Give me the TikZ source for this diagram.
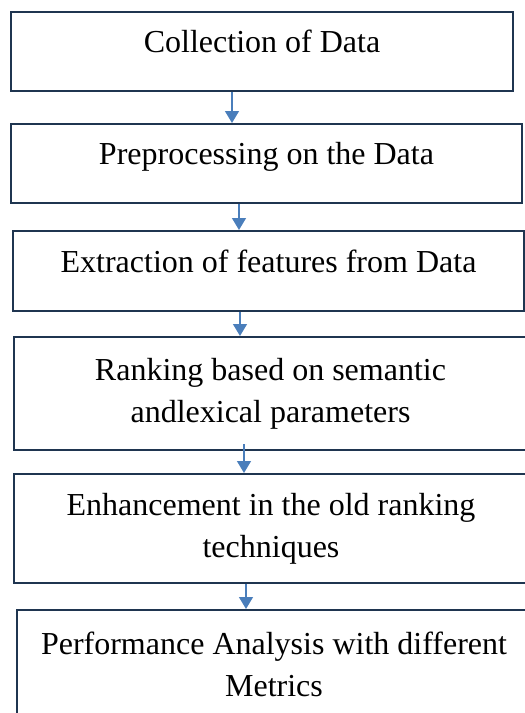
\documentclass[tikz,border=0pt]{standalone}
\usepackage{fontspec}
\setmainfont{Liberation Serif}
\usetikzlibrary{arrows.meta,positioning,calc}
\definecolor{boxline}{HTML}{1F3550}
\definecolor{arrowblue}{HTML}{4A7EBB}

\begin{document}
\begin{tikzpicture}[x=0.5pt, y=-0.5pt,
    stepbox/.style={draw=boxline, line width=1pt, anchor=north west, align=center,
        font=\fontsize{16}{20.8}\selectfont},
    oneline/.style={text depth=10pt},
    flow/.style={draw=arrowblue, line width=0.75pt, -{Triangle[width=7pt,length=6pt]}}]
    \useasboundingbox (0,0) rectangle (525,713);

    % Define steps
    \node[stepbox, oneline, minimum width=251pt, minimum height=39.5pt] (s1) at (10,11) {Collection of Data};
    \node[stepbox, oneline, minimum width=255.5pt, minimum height=39.5pt] (s2) at (10,123) {Preprocessing on the Data};
    \node[stepbox, oneline, minimum width=255.5pt, minimum height=40pt] (s3) at (12,230) {Extraction of features from Data};
    \node[stepbox, minimum width=256.5pt, minimum height=56.5pt] (s4) at (13,336) {Ranking based on semantic\\andlexical parameters};
    \node[stepbox, minimum width=257pt, minimum height=54.5pt] (s5) at (13,473) {Enhancement in the old ranking\\techniques};
    \node[stepbox, minimum width=257pt, minimum height=54.5pt] (s6) at (16,609) {Performance Analysis with different\\Metrics};

    %Draw arrows between adjacent steps
    \foreach \i/\j/\ax/\back in {1/2/232/0pt, 2/3/239/0pt, 3/4/240/0pt, 4/5/244/-3.5pt, 5/6/246/0pt} {
        \coordinate (a\i) at (\ax,0);
        \draw[flow, shorten <=\back] (s\i.south -| a\i) -- (s\j.north -| a\i);
    }
\end{tikzpicture}
\end{document}
